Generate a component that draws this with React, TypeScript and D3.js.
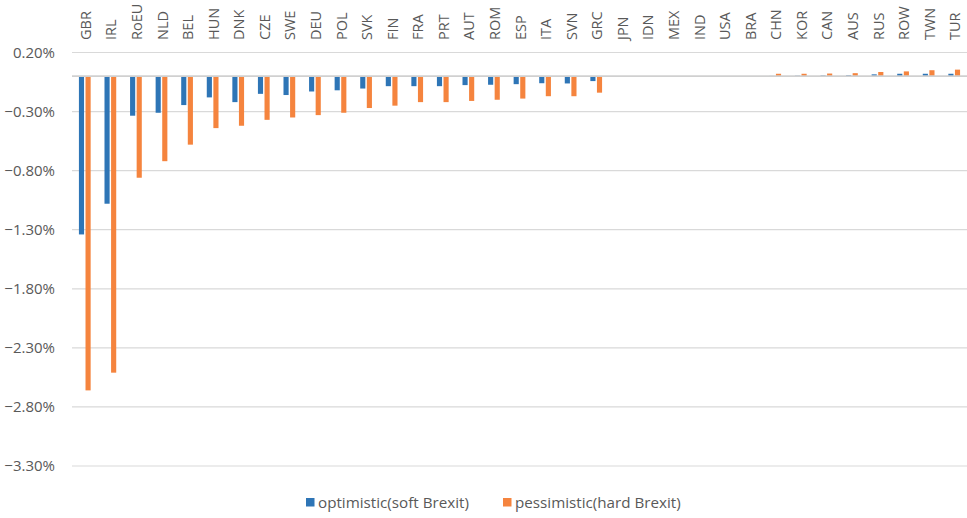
import React from "react";
import * as d3 from "d3";

const categories = ["GBR","IRL","RoEU","NLD","BEL","HUN","DNK","CZE","SWE","DEU","POL","SVK","FIN","FRA","PRT","AUT","ROM","ESP","ITA","SVN","GRC","JPN","IDN","MEX","IND","USA","BRA","CHN","KOR","CAN","AUS","RUS","ROW","TWN","TUR"];
const optimistic = [-1.34,-1.08,-0.335,-0.31,-0.245,-0.18,-0.22,-0.15,-0.16,-0.13,-0.12,-0.105,-0.085,-0.085,-0.085,-0.076,-0.073,-0.068,-0.06,-0.062,-0.042,0,0,0,0,0,0,0.002,0.004,0.006,0.008,0.015,0.02,0.02,0.02];
const pessimistic = [-2.66,-2.51,-0.86,-0.72,-0.58,-0.44,-0.42,-0.37,-0.35,-0.33,-0.31,-0.27,-0.25,-0.22,-0.22,-0.21,-0.20,-0.19,-0.17,-0.17,-0.14,0,0,0,0,0,0,0.02,0.02,0.022,0.025,0.035,0.04,0.05,0.055];
const seriesNames = ["optimistic(soft Brexit)", "pessimistic(hard Brexit)"];
const yTicks = [0.2,-0.3,-0.8,-1.3,-1.8,-2.3,-2.8,-3.3];

const W = 967, H = 518;
const colors = ["#2E75B6", "#F5843E"];
const font = "'Open Sans', 'Liberation Sans', sans-serif";

export default function App() {
  const left = 72, right = 967, top = 52.5, bottom = 466;
  const x = d3.scaleBand<string>().domain(categories).range([left, right]).paddingInner(0).paddingOuter(0);
  const y = d3.scaleLinear().domain([-3.3, 0.2]).range([bottom, top]);
  const inner = d3.scaleBand<number>().domain([0, 1]).range([0, x.bandwidth()]).paddingInner(0.22).paddingOuter(1.05);
  const series = [optimistic, pessimistic];
  const y0 = y(0);
  return (
    <svg width={W} height={H} style={{ position: "absolute", left: 0, top: 0, background: "#fff" }} fontFamily={font}>
      {yTicks.map((t) => (
        <g key={t}>
          <line x1={left} x2={right} y1={y(t)} y2={y(t)} stroke="#d9d9d9" strokeWidth={1.2} />
          <text x={55} y={y(t)} dy="0.35em" textAnchor="end" fontSize={15} fill="#595959">{d3.format(".2f")(t) + "%"}</text>
        </g>
      ))}
      {categories.map((c, i) => (
        <g key={c}>
          {series.map((s, k) => {
            const v = s[i];
            if (v === 0) return null;
            const yv = y(v);
            return (
              <rect key={k} x={(x(c) as number) + (inner(k) as number)} width={inner.bandwidth()}
                y={Math.min(yv, y0)} height={Math.abs(yv - y0)} fill={colors[k]} />
            );
          })}
          <text transform={`translate(${(x(c) as number) + x.bandwidth() / 2 + 1},40) rotate(-90)`} dy="0.35em"
            textAnchor="start" fontSize={14.5} fill="#595959">{c}</text>
        </g>
      ))}
      <line x1={left} x2={right} y1={y0} y2={y0} stroke="#d0d0d0" strokeWidth={1.8} />
      <g>
        <rect x={306} y={498} width={8.5} height={8.5} fill={colors[0]} />
        <text x={318} y={502.5} dy="0.35em" fontSize={15.2} fill="#595959">{seriesNames[0]}</text>
        <rect x={503} y={498} width={8.5} height={8.5} fill={colors[1]} />
        <text x={515} y={502.5} dy="0.35em" fontSize={15.2} fill="#595959">{seriesNames[1]}</text>
      </g>
    </svg>
  );
}
